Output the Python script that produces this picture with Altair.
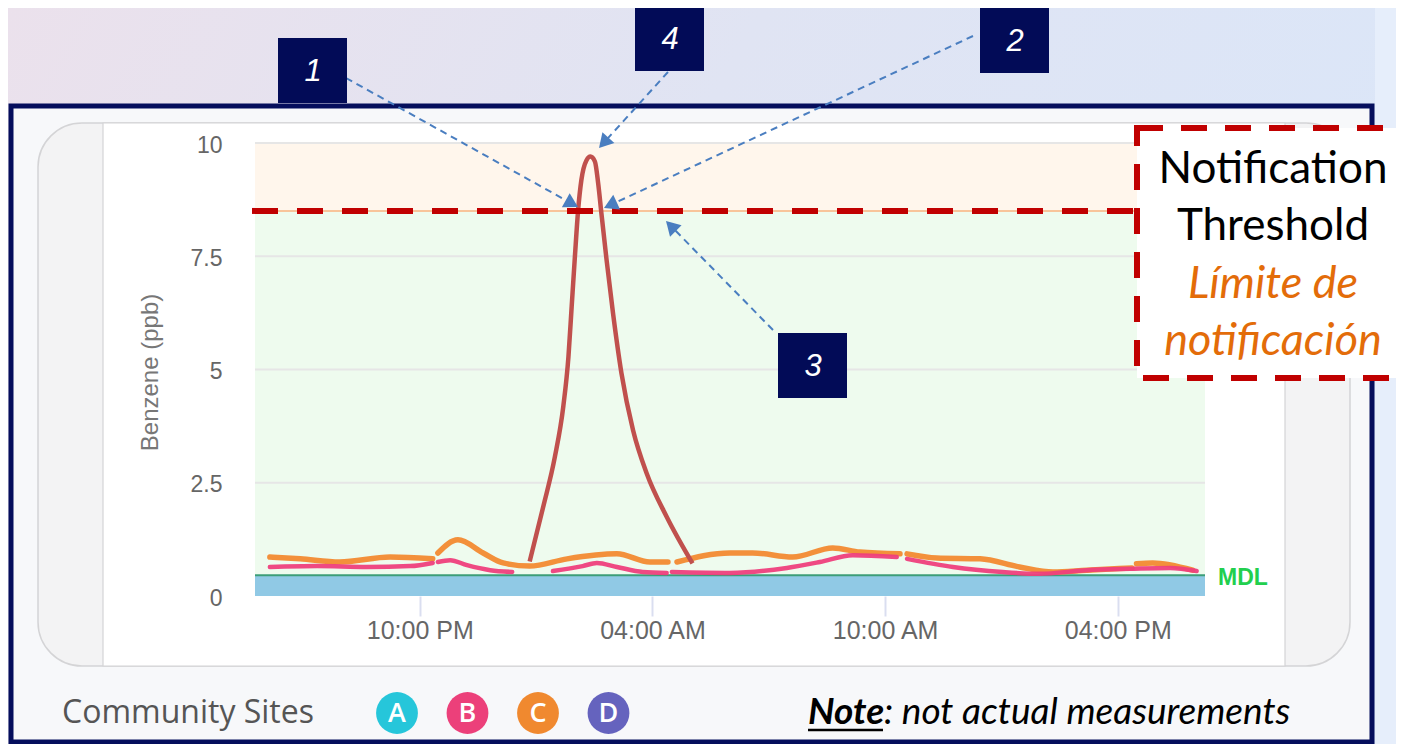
import math
import altair as alt
import pandas as pd

# ---------------- data ----------------
MDL = 0.46
THRESHOLD = 8.5
Y_MAX = 10
y_ticks = [0, 2.5, 5, 7.5, 10]
grid_values = [2.5, 5, 7.5, 10]
x_tick_times = ["1 22:00", "2 04:00", "2 10:00", "2 16:00"]
x_domain = ["1 17:45", "2 18:15"]

# Site C (orange) - segments separated by gaps
site_c_time = ["1 18:08", "1 18:55", "1 19:56", "1 21:14", "1 22:20",
               "1 22:28", "1 22:59", "1 23:38", "2 00:09", "2 00:50", "2 01:48", "2 03:05", "2 03:56", "2 04:24",
               "2 04:38", "2 06:00", "2 06:35", "2 07:37", "2 08:39", "2 09:21", "2 10:23",
               "2 10:34", "2 11:20", "2 12:27", "2 13:28", "2 14:20", "2 15:12", "2 16:22",
               "2 16:29", "2 16:54", "2 17:56"]
site_c_value = [0.86, 0.82, 0.75, 0.86, 0.82,
                0.95, 1.24, 0.95, 0.73, 0.66, 0.82, 0.93, 0.75, 0.75,
                0.75, 0.95, 0.95, 0.86, 1.06, 0.97, 0.93,
                0.93, 0.84, 0.82, 0.64, 0.53, 0.57, 0.62,
                0.71, 0.73, 0.57]
site_c_segment = [1] * 5 + [2] * 9 + [3] * 7 + [4] * 7 + [5] * 3

# Site B (pink)
site_b_time = ["1 18:08", "1 19:21", "1 20:38", "1 21:45", "1 22:20",
               "1 22:28", "1 22:47", "1 23:13", "1 23:49", "2 00:23",
               "2 01:26", "2 02:12", "2 02:34", "2 03:05", "2 03:45", "2 04:22",
               "2 04:30", "2 06:00", "2 07:28", "2 08:19", "2 09:10", "2 10:18",
               "2 10:34", "2 11:45", "2 13:02", "2 13:59", "2 15:12", "2 16:19", "2 17:21", "2 18:02"]
site_b_value = [0.64, 0.66, 0.64, 0.66, 0.73,
                0.75, 0.79, 0.68, 0.57, 0.53,
                0.55, 0.66, 0.73, 0.64, 0.53, 0.51,
                0.53, 0.51, 0.62, 0.75, 0.90, 0.86,
                0.82, 0.64, 0.53, 0.49, 0.57, 0.60, 0.62, 0.55]
site_b_segment = [1] * 5 + [2] * 5 + [3] * 6 + [4] * 6 + [5] * 8

# Illustrative spike
spike_time = ["2 00:50", "2 01:11", "2 01:29", "2 01:42", "2 01:50", "2 01:55", "2 02:00",
              "2 02:05", "2 02:10", "2 02:18", "2 02:24", "2 02:31", "2 02:36", "2 02:41",
              "2 02:49", "2 02:59", "2 03:12", "2 03:30", "2 03:51", "2 04:22", "2 05:02"]
spike_value = [0.76, 1.97, 3.07, 4.18, 5.28, 6.39, 7.49,
               8.52, 9.18, 9.62, 9.70, 9.59, 9.11, 8.45,
               7.42, 6.24, 4.92, 3.66, 2.71, 1.75, 0.72]

sites = ["A", "B", "C", "D"]
site_colors = ["#26c6da", "#ec407a", "#f0892f", "#6563be"]

callout_labels = ["1", "2", "3", "4"]


def iso(s):
    d, hm = s.split(" ")
    return f"2024-01-0{d}T{hm}:00"


def dt(s):
    d, hm = s.split(" ")
    h, m = hm.split(":")
    return alt.DateTime(year=2024, month=1, date=int(d), hours=int(h), minutes=int(m))


# ---------------- layout (page pixels) ----------------
OX, OY = 255, 143
PW, PH = 950, 453
def px(x): return x - OX
def py(y): return y - OY

one = pd.DataFrame({"k": [0]})

AXIS_FONT = "Liberation Sans"

x_enc = alt.X("t:T", scale=alt.Scale(domain=[dt(x_domain[0]), dt(x_domain[1])]),
              axis=alt.Axis(values=[dt(v) for v in x_tick_times], format="%I:%M %p", title=None,
                            domain=False, grid=False, ticks=True, tickSize=20, tickWidth=2,
                            tickColor="#dadef0", labelFontSize=25, labelColor="#666666",
                            labelFont=AXIS_FONT, labelPadding=2, zindex=1))
y_scale = alt.Scale(domain=[0, Y_MAX], nice=False)


def rect(x1, y1, x2, y2, **kw):
    return alt.Chart(one).mark_rect(**kw).encode(
        x=alt.value(px(x1)), x2=alt.value(px(x2)), y=alt.value(py(y1)), y2=alt.value(py(y2)))


def text(x, y, s, **kw):
    return alt.Chart(one).mark_text(text=s, **kw).encode(x=alt.value(px(x)), y=alt.value(py(y)))


def rule(x1, y1, x2, y2, **kw):
    return alt.Chart(one).mark_rule(**kw).encode(
        x=alt.value(px(x1)), x2=alt.value(px(x2)), y=alt.value(py(y1)), y2=alt.value(py(y2)))


layers = []

# background gradient
layers.append(rect(8, 8, 1396, 744, color=alt.Gradient(
    gradient="linear", x1=0, x2=1, y1=0, y2=0.3,
    stops=[alt.GradientStop(color="#ebe1ec", offset=0),
           alt.GradientStop(color="#e0e4f3", offset=0.5),
           alt.GradientStop(color="#dbe6f8", offset=1)])))
layers.append(rect(1375, 8, 1396, 744, color="#e6eefb"))

# navy frame
layers.append(rect(11, 106, 1372, 742, fill="#f7f8fa", stroke="#050e5c", strokeWidth=5))
# rounded panel + white middle
layers.append(rect(38, 123, 1350, 666, fill="#f3f3f4", stroke="#d4d4d6", strokeWidth=1.5, cornerRadius=44))
layers.append(rect(103, 123, 1285, 666, fill="#ffffff", stroke="#d4d4d6", strokeWidth=1.2))

# bands
bands = pd.DataFrame({"lo": [THRESHOLD, MDL, 0], "hi": [Y_MAX, THRESHOLD, MDL],
                      "c": ["#fff6ec", "#eefbee", "#90c9e5"]})
layers.append(alt.Chart(bands).mark_rect().encode(
    x=alt.value(0), x2=alt.value(PW),
    y=alt.Y("lo:Q", scale=y_scale,
            axis=alt.Axis(values=y_ticks, labelExpr="datum.value + ''", grid=False, domain=False,
                          ticks=False, labelFontSize=23, labelColor="#666666", labelFont=AXIS_FONT,
                          labelPadding=33, labelOffset=2,
                          title="Benzene (ppb)", titleFont=AXIS_FONT, titleFontSize=24,
                          titleFontWeight="normal", titleColor="#777777", titleAngle=270,
                          titleX=-105, titleY=229, titleAlign="center", titleBaseline="middle",
                          zindex=1)),
    y2="hi:Q", color=alt.Color("c:N", scale=None)))

# gridlines
layers.append(alt.Chart(pd.DataFrame({"g": grid_values})).mark_rule(color="#e6e6e6", strokeWidth=2).encode(
    y=alt.Y("g:Q", scale=y_scale), x=alt.value(0), x2=alt.value(PW)))
# band edges
layers.append(alt.Chart(one).mark_rule(color="#f8c49a", strokeWidth=2).encode(
    y=alt.datum(THRESHOLD, scale=y_scale), x=alt.value(0), x2=alt.value(PW)))
layers.append(alt.Chart(one).mark_rule(color="#3c9e78", strokeWidth=2).encode(
    y=alt.datum(MDL, scale=y_scale), x=alt.value(0), x2=alt.value(PW)))

# series
c_df = pd.DataFrame({"t": [iso(s) for s in site_c_time], "v": site_c_value, "seg": site_c_segment})
b_df = pd.DataFrame({"t": [iso(s) for s in site_b_time], "v": site_b_value, "seg": site_b_segment})
s_df = pd.DataFrame({"t": [iso(s) for s in spike_time], "v": spike_value})

layers.append(alt.Chart(c_df).mark_line(color="#f28a30", strokeWidth=5.5, interpolate="monotone",
                                        strokeCap="round", opacity=0.95).encode(
    x=x_enc, y=alt.Y("v:Q", scale=y_scale), detail="seg:N"))
layers.append(alt.Chart(b_df).mark_line(color="#ee3f7c", strokeWidth=4.5, interpolate="monotone",
                                        strokeCap="round", opacity=0.95).encode(
    x=x_enc, y=alt.Y("v:Q", scale=y_scale), detail="seg:N"))
layers.append(alt.Chart(s_df).mark_line(color="#c0504d", strokeWidth=4.5, interpolate="monotone").encode(
    x=x_enc, y=alt.Y("v:Q", scale=y_scale)))

# threshold dashed line
layers.append(alt.Chart(one).mark_rule(color="#c00000", strokeWidth=6, strokeDash=[26, 19]).encode(
    y=alt.datum(THRESHOLD, scale=y_scale), x=alt.value(-3), x2=alt.value(px(1136))))

# Notification box
layers.append(rect(1137, 128, 1402, 378, fill="#ffffff", stroke="#c00000", strokeWidth=6,
                   strokeDash=[26, 18]))
NF = "Lato"
layers.append(text(1273, 170, "Notification", font=NF, fontSize=44, color="#000000", align="center", baseline="middle"))
layers.append(text(1273, 227, "Threshold", font=NF, fontSize=44, color="#000000", align="center", baseline="middle"))
layers.append(text(1273, 284, "Límite de", font=NF, fontSize=45, fontStyle="italic", color="#e36c09",
                   align="center", baseline="middle"))
layers.append(text(1273, 341, "notificación", font=NF, fontSize=45, fontStyle="italic", color="#e36c09",
                   align="center", baseline="middle"))

# arrows (start -> tip)
arrows = [((346, 78), (578, 207)), ((973, 36), (604, 208)), ((773, 330), (666, 221)), ((668, 72), (599, 148))]
for (x0, y0), (x1, y1) in arrows:
    dx, dy = x1 - x0, y1 - y0
    L = math.hypot(dx, dy)
    ux, uy = dx / L, dy / L
    bx, by = x1 - ux * 12, y1 - uy * 12
    cx, cy = x1 - ux * 7, y1 - uy * 7
    rot = (math.degrees(math.atan2(dy, dx)) + 90) % 360
    layers.append(rule(x0, y0, bx, by, color="#4a7ec0", strokeWidth=2, strokeDash=[7, 5]))
    layers.append(alt.Chart(one).mark_point(shape="triangle-up", filled=True, size=260, color="#4a7ec0",
                                            opacity=1, angle=rot).encode(
        x=alt.value(px(cx)), y=alt.value(py(cy))))

# numbered boxes
boxes = {"1": (278, 38), "2": (980, 8), "3": (778, 333), "4": (635, 6)}
for lab in callout_labels:
    bx, by = boxes[lab]
    layers.append(rect(bx, by, bx + 69, by + 65, color="#020b57"))
    layers.append(text(bx + 35, by + 34, lab, font="Liberation Sans", fontSize=31, fontStyle="italic",
                       color="#ffffff", align="center", baseline="middle"))

# MDL label
layers.append(text(1218, 578, "MDL", font="Liberation Sans", fontSize=23, fontWeight="bold",
                   color="#22cf4e", align="left", baseline="middle"))

# Community sites legend
layers.append(text(62, 713, "Community Sites", font="Open Sans", fontSize=32, color="#555555",
                   align="left", baseline="middle"))
for i, (s, c) in enumerate(zip(sites, site_colors)):
    cxp = 397 + i * 70.5
    layers.append(alt.Chart(one).mark_circle(size=1750, color=c, opacity=1).encode(
        x=alt.value(px(cxp)), y=alt.value(py(713))))
    layers.append(text(cxp, 714, s, font="Open Sans", fontSize=27, fontWeight=600, color="#ffffff",
                       align="center", baseline="middle"))

# Note
layers.append(text(808, 713, "Note", font=NF, fontSize=37, fontStyle="italic", fontWeight="bold",
                   color="#000000", align="left", baseline="middle"))
layers.append(text(884, 713, ": not actual measurements", font=NF, fontSize=37, fontStyle="italic",
                   color="#000000", align="left", baseline="middle"))
layers.append(rule(808, 730, 883, 730, color="#000000", strokeWidth=2.5))

chart = alt.layer(*layers).properties(
    width=PW, height=PH,
    autosize=alt.AutoSizeParams(type="none"),
    padding={"left": 247, "top": 135, "right": 191, "bottom": 148},
    background="#ffffff",
).configure_view(stroke=None)

chart.save("out.html", embed_options={"renderer": "svg", "actions": False})
